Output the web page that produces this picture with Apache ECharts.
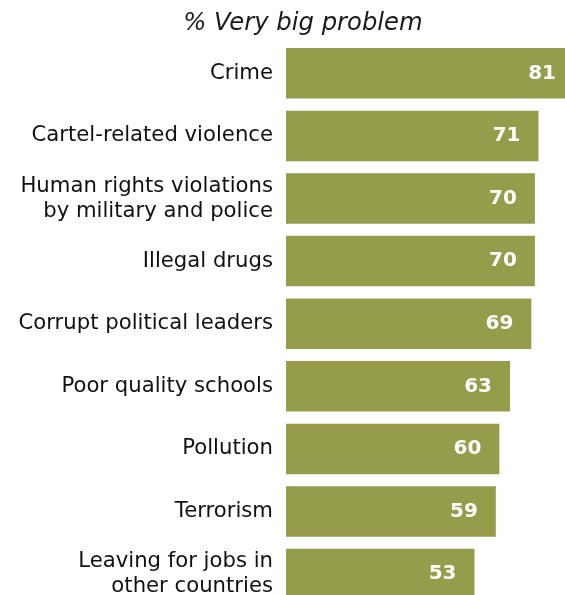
<!DOCTYPE html>
<html><head><meta charset="utf-8">
<script src="https://cdn.jsdelivr.net/npm/echarts@6/dist/echarts.min.js"></script>
<style>html,body{margin:0;padding:0;background:#fff}#c{width:565px;height:595px}</style>
</head><body><div id="c"></div>
<script>
var categories = ["Crime", "Cartel-related violence", "Human rights violations\nby military and police", "Illegal drugs", "Corrupt political leaders", "Poor quality schools", "Pollution", "Terrorism", "Leaving for jobs in\nother countries"];
var values = [81, 71, 70, 70, 69, 63, 60, 59, 53];
var titleText = "% Very big problem";

var chart = echarts.init(document.getElementById('c'), null, {renderer: 'canvas'});
chart.setOption({
  backgroundColor: '#fff',
  animation: false,
  title: {
    text: titleText, left: 298, top: 7, textAlign: 'center',
    textStyle: {fontFamily: 'DejaVu Sans', fontStyle: 'italic', fontWeight: 'normal', fontSize: 24.3, color: '#1a1a1a'}
  },
  grid: {left: 286, top: 42, width: 355.6, height: 563.4, containLabel: false, outerBoundsMode: 'none'},
  xAxis: {type: 'value', min: 0, max: 100, show: false},
  yAxis: {
    type: 'category', data: categories, inverse: true,
    axisLine: {show: false}, axisTick: {show: false}, splitLine: {show: false},
    axisLabel: {margin: 13, fontFamily: 'DejaVu Sans', fontSize: 21.2, color: '#111', lineHeight: 25, align: 'right'}
  },
  series: [{
    type: 'bar', data: values, barWidth: 50.5, clip: false,
    itemStyle: {color: '#959d4b'},
    label: {show: true, position: 'insideRight', distance: 18, color: '#fff', fontFamily: 'DejaVu Sans', fontWeight: 'bold', fontSize: 20}
  }]
});
</script></body></html>
